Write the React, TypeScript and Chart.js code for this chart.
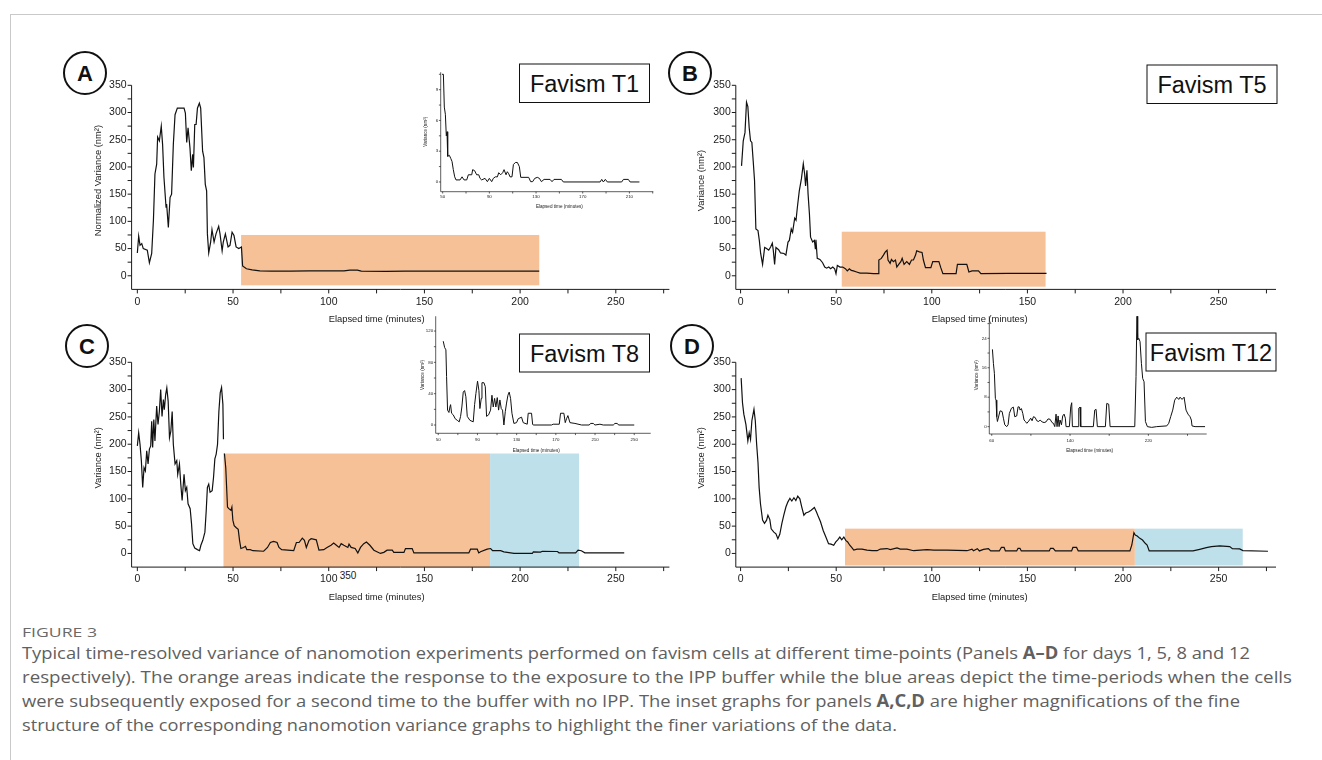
import React, { useEffect, useRef } from "react";
import { Chart, registerables } from "chart.js";

Chart.register(...registerables);

type Pt = [number, number];

// ---------------- DATA ----------------
// Panel A (Favism T1) main trace: [minutes, normalized variance nm²]
const A_MAIN: Pt[] = [[0,42],[0.7,73],[1.4,56],[2.3,59],[3.1,50],[5.2,47],[6.3,24],[7.5,41],[8.4,102],[9.2,187],[10.1,205],[10.6,255],[11.5,248],[12.5,275],[13.2,241],[13.9,181],[15,126],[15.3,132],[16.2,89],[17.1,144],[17.9,150],[18.8,241],[19.7,296],[20.9,308],[24.4,308],[25.1,299],[25.8,245],[26.5,272],[27.5,235],[28.2,193],[28.9,223],[29.3,199],[30,278],[30.7,278],[31.4,308],[32.4,317],[33.1,308],[34.1,229],[34.8,217],[35.5,168],[36.2,156],[36.6,77],[37.3,42],[38.3,62],[39,85],[40.1,62],[41.1,77],[42.5,91],[43.2,77],[44.3,46],[44.9,62],[46,77],[47.4,53],[48.4,56],[49.5,80],[50.5,74],[51.6,53],[53,50],[54.4,53],[55,18],[57,13],[60,11],[64,9],[70,8.5],[80,8.5],[90,9],[100,9],[108,9],[111,10.5],[115,10.5],[117,8.5],[130,8],[140,8.5],[150,8.5],[170,8.5],[190,8.5],[200,8.5],[210,8.5]];
// Panel A inset (fine structure)
const A_INSET: Pt[] = [[49.4,10.5],[50.6,10.5],[51.4,7.3],[52.3,6.6],[53.1,4.5],[53.7,4.9],[54.3,2.5],[55.7,2.6],[56.9,2.3],[58,2.0],[59.1,1.2],[60.3,0.5],[61.4,0.2],[64.9,0.2],[66.6,0.5],[68.3,0.2],[70.6,0.2],[72,0.7],[74.9,0.7],[75.7,1.2],[77.4,1.1],[79.1,0.7],[80.9,0.7],[82,0.35],[83.4,0.2],[86.3,0.35],[88.3,0.03],[90,0.35],[92,0.03],[93.4,0.35],[95.1,0.5],[96.9,0.5],[98,0.9],[99.7,0.7],[101.4,0.9],[102.6,1.2],[104.3,0.7],[105.4,1.0],[106.6,0.8],[107.7,0.5],[109.4,0.5],[110.6,1.7],[112.3,1.9],[114,1.9],[115.7,1.5],[116.9,0.45],[123.7,0.45],[125.4,0.03],[127.1,0.03],[128.9,0.35],[131.1,0.45],[132.9,0.35],[134.6,0.03],[136.9,0.25],[142,0.25],[143.7,0.03],[145.4,0.25],[151.7,0.25],[153.4,0],[184.9,0],[186.3,0.25],[187.7,0],[189.4,0.25],[191.1,0],[203.4,0],[204.9,0.25],[209.1,0.25],[210.6,0],[218.6,0]];

// Panel B (Favism T5)
const B_MAIN: Pt[] = [[0.5,202],[1.4,248],[2.3,263],[3.1,319],[3.8,311],[4.5,272],[5.2,248],[5.9,245],[6.6,211],[7.3,175],[8,86],[9.1,83],[9.8,65],[10.5,41],[11.5,21],[12.6,52],[13.6,50],[14.7,47],[15.7,53],[16.6,60],[17.1,47],[17.8,21],[18.5,52],[19.9,48],[20.9,42],[22.7,41],[23.7,38],[24.8,62],[25.5,65],[26.5,86],[27.2,80],[28.3,106],[29,102],[29.7,126],[30.7,156],[31.8,178],[32.8,206],[33.5,187],[34,165],[34.7,194],[35.3,150],[36,114],[36.6,71],[37.7,62],[38.6,65],[39.1,50],[39.4,66],[40.1,32],[41.5,30],[42.9,24],[44,16],[45,14],[46.1,16],[47.1,13],[48.2,16],[49.2,13],[49.9,4],[50.6,19],[52,16],[53.4,16],[54.8,13],[55.8,9],[56.9,13],[57.9,10],[59,9],[60.7,7],[62.5,5],[66,5],[69.5,4],[71.9,4],[72.3,29],[73.6,32],[74.7,38],[75.7,44],[76.6,47],[77.1,29],[78.2,23],[78.9,30],[79.9,26],[81,29],[81.7,16],[82.7,21],[83.8,26],[84.5,32],[85.5,21],[86.9,26],[88.3,21],[89.4,29],[90.4,29],[91.5,38],[92.1,46],[93.5,44],[94.9,43],[95.6,29],[96.7,15],[99.5,15],[100.5,26],[103.7,26],[104.7,15],[105.8,4],[112.7,4],[113.4,21],[118.3,21],[119.4,7],[121,9],[124.4,9],[125.7,4],[140,4.5],[160,4.4]];

// Panel C (Favism T8): before and after the buffer exchange
const C_PRE: Pt[] = [[0,197],[0.7,221],[1.4,200],[2.1,170],[2.8,121],[3.5,157],[4.2,151],[4.9,188],[5.6,164],[6.3,191],[7,197],[7.5,242],[8,194],[8.6,245],[9.2,206],[10.1,270],[10.8,236],[11.5,260],[12.2,300],[12.9,251],[13.6,282],[14.1,263],[14.8,291],[15.4,303],[16.1,279],[16.8,212],[17.5,224],[18.2,260],[18.8,200],[19.7,164],[20.6,170],[21.1,145],[22,164],[22.7,127],[23.4,97],[24.4,145],[25.1,115],[25.8,121],[26.5,91],[27.6,82],[28.3,55],[29,18],[30,10],[31.4,7],[32.5,5],[33.2,15],[34.2,24],[35.3,39],[36,79],[36.6,121],[37.3,127],[38,112],[39.1,115],[39.8,139],[40.5,173],[41.2,182],[41.9,200],[42.6,260],[43.3,294],[44,304],[44.7,273],[45,209]];
const C_POST: Pt[] = [[45.5,183],[46.2,157],[47.1,85],[47.8,82],[48.9,79],[49.4,85],[49.9,61],[50.6,51],[51.7,47],[52.7,44],[53.4,24],[54.1,9],[55.5,11],[56.5,13],[57.2,7],[59,7],[60.4,5],[66,4],[68,11],[69.5,20],[71.2,22],[73,20],[74,11],[75.4,7],[81.7,5],[83.1,20],[84.5,20],[86.2,28],[87.3,24],[88.3,11],[89.7,24],[90.8,27],[93.5,25],[94.9,6],[97.4,7],[99.1,11],[101.2,15],[102.6,19],[104,15],[105.4,11],[106.5,18],[107.9,15],[110,11],[110.6,17],[111.7,11],[113.8,9],[115.2,1],[116.6,11],[118.3,18],[119.7,21],[121.5,15],[123.6,6],[127,0],[128.8,2],[130.5,6],[133.2,6],[134,2],[139.3,2],[140.1,9],[143.6,9],[144.5,1],[173.2,1],[174.1,7.8],[177.6,7.8],[178.4,1],[179.3,3],[182.8,7.8],[184.6,9],[185.6,5],[189.8,5],[191.5,3],[196.8,0],[206.4,0],[206.9,3],[210.7,2.4],[211.6,4],[219.5,3.6],[220.3,1.2],[229,1.2],[230.3,6],[232,5],[233.8,1.2],[254.4,1.2]];
const C_INSET: Pt[] = [[55.1,107],[56.5,99],[57.8,96],[58.5,62],[59.5,19],[60.9,16],[61.9,23],[62.6,26],[63.6,15],[65.3,13],[67.3,8],[69.4,6],[71.4,4],[72.8,11],[74.1,23],[75.5,42],[76.9,44],[78.2,36],[79.6,11],[82.3,6],[85.7,4],[87.1,26],[88.4,40],[90.1,56],[91.5,44],[92.5,21],[93.9,34],[94.6,54],[96.6,54],[98,49],[99.3,11],[101.4,13],[103.4,19],[104.8,38],[106.1,23],[107.5,34],[108.8,23],[110.2,35],[111.6,19],[112.9,32],[114.3,21],[115.6,19],[117,0],[118.4,17],[119.7,28],[121.1,38],[122.4,42],[123.8,34],[125.2,15],[127.2,2],[129.9,3],[131.6,8],[135,10],[136.7,3],[140.8,1],[141.8,15],[145.2,15],[146.3,1],[146.9,0],[165.6,0],[167.3,1],[173.5,1],[174.8,15],[178.2,15],[179.6,3],[180.9,8],[182.3,12],[184.4,3],[189.5,2],[196.3,0],[204.1,0],[205.4,2],[208.2,2],[209.9,0],[215,1],[218.4,0],[228.6,0],[230.3,2],[232.7,2],[234,0],[250,0]];

// Panel D (Favism T12)
const D_MAIN: Pt[] = [[0.3,321],[1,276],[1.7,255],[2.8,236],[3.8,206],[4.5,221],[5.2,209],[5.9,243],[7,264],[7.7,243],[8.4,200],[9.1,167],[9.7,121],[10.4,91],[11.5,61],[12.5,55],[13.6,61],[14.3,70],[15.3,62],[16,45],[17.4,39],[18.5,36],[19.5,27],[20.5,35],[21.6,55],[22.6,70],[23.7,85],[24.7,94],[25.8,101],[26.8,96],[27.9,102],[28.9,97],[29.9,105],[31,100],[32,85],[33.1,70],[34.1,74],[35.5,76],[36.9,79],[38.6,84],[39.7,76],[40.7,67],[41.8,58],[43.2,42],[44.6,30],[46,18],[47.3,17],[48.7,15],[49.8,21],[50.8,25],[51.9,30],[52.9,25],[54,30],[55,24],[56,21],[57.1,15],[58.1,11],[59.2,6],[60.9,8],[63.5,8],[66.1,6],[68.8,5],[71.4,5],[73.1,8],[76.6,9],[78.3,7],[81.8,10],[83.5,8],[87,8],[90.5,5],[97.5,7],[101,6],[107.9,6],[118.4,5],[121,8],[121.8,5],[123.8,8.7],[124.9,4.6],[127,7.4],[129.6,8.7],[130.8,4.6],[135.3,4.6],[136.4,11],[137.8,11],[138.5,4.6],[144.4,4.6],[145.1,9.4],[146.1,9.4],[146.8,4.6],[161.4,4.6],[162.1,9.4],[163.5,9.4],[164.6,4.6],[173.1,4.6],[173.8,11],[175.7,11],[176.6,4.6],[203.6,4.6],[204.6,15.5],[205.7,37.9],[206.4,33.6],[207.4,31.9],[208.8,27.6],[210.2,24.6],[211.6,18.6],[212.6,15.5],[213.7,4.6],[236.6,4.6],[240.1,7.6],[243.6,10.6],[246.2,12.5],[250.6,13.7],[255.8,12.5],[257.2,8.8],[261,8.2],[262.7,5.2],[275.8,4]];
const D_INSET: Pt[] = [[60.7,21],[61.7,17.2],[62.7,14.5],[63.7,7.7],[64.4,7.2],[65.1,2.7],[65.8,1.4],[67.2,2.9],[68.5,4.3],[70.6,4.1],[71.9,2.3],[73.3,0.5],[75.3,0],[76.7,0.5],[78,3.6],[80.1,5],[82.1,5.3],[83.5,2.7],[85.5,2.9],[86.9,5.4],[88.3,5.3],[88.9,4.5],[90.3,4.9],[91.7,3.6],[93,1.8],[94.4,1.4],[95.8,0.9],[97.8,1.5],[99.8,2.3],[101.2,1.6],[102.6,2.7],[104.3,2.5],[106,1.6],[108,1.4],[109.4,1.8],[111.4,1.3],[113.5,1.1],[115.5,1.3],[117.5,2.1],[119.6,2.0],[121.6,1.1],[123,0.9],[124.4,0],[125.7,3.4],[126.7,0],[127.8,2.9],[128.8,0],[129.8,1.8],[131.2,0.5],[132.5,2.9],[133.9,3.4],[135.2,2.3],[135.9,0],[139.3,0],[140.7,5.4],[141.7,6.5],[142.4,0],[148.2,0],[148.9,5],[150.2,5.3],[150.9,0],[163.8,0],[165.2,4.5],[166.6,4.7],[167.9,0],[176.1,0],[177.5,6.3],[179.5,6.1],[180.9,0],[206.1,0],[207.4,13.6],[208.4,32],[209.1,23.6],[210.2,24],[211.5,23.1],[212.9,17.2],[214.2,13.1],[215.6,12.2],[217,1.4],[219,0],[223.4,-0.2],[228.5,0],[238.8,0.2],[240.8,0.9],[242.8,2.7],[244.9,4.5],[246.9,7.2],[249,8],[251,7.4],[252.4,8],[254.4,7.4],[256.5,8],[258.5,4.5],[260.5,3.4],[262.6,2.7],[263.9,1.8],[264.6,0.2],[267.7,0],[277.9,0]];

// Exposure periods: [start min, end min, lower variance, upper variance]
const A_IPP = [54.2, 210, -17.5, 75];
const B_IPP = [52.9, 159.5, -20, 81];
const C_IPP = [45, 184.3, -25, 183];
const C_NOIPP = [184.3, 230.8, -25, 183];
const D_IPP = [54.6, 206.2, -22, 45.4];
const D_NOIPP = [206.2, 262.6, -22, 45.4];

// Ticks
const MAIN_X_TICKS = [0, 50, 100, 150, 200, 250];
const MAIN_X_MINOR = [25, 75, 125, 175, 225, 275];
const MAIN_Y_TICKS = [0, 50, 100, 150, 200, 250, 300, 350];
const MAIN_Y_MINOR = [25, 75, 125, 175, 225, 275, 325];
const A_IN_X_TICKS = [50, 90, 130, 170, 210];
const A_IN_X_MINOR = [70, 110, 150, 190, 230];
const A_IN_Y_TICKS = [0, 3, 6, 9];
const A_IN_Y_MINOR = [1.5, 4.5, 7.5, 10.5];
const C_IN_X_TICKS = [50, 90, 130, 170, 210, 250];
const C_IN_X_MINOR = [70, 110, 150, 190, 230];
const C_IN_Y_TICKS = [0, 40, 80, 120];
const C_IN_Y_MINOR = [20, 60, 100];
const D_IN_X_TICKS = [60, 140, 220];
const D_IN_X_MINOR = [100, 180, 260];
const D_IN_Y_TICKS = [0, 8, 16, 24];
const D_IN_Y_MINOR = [4, 12, 20, 28];

const PANEL_NAMES = ["Favism T1", "Favism T5", "Favism T8", "Favism T12"];
const PANEL_LETTERS = ["A", "B", "C", "D"];
const X_TITLE = "Elapsed time (minutes)";

// ---------------- STYLE ----------------
const FAMILY = '"Liberation Sans", Arial, Helvetica, sans-serif';
const ORANGE = "rgb(247,193,151)";
const BLUE = "rgb(190,224,235)";
const INK = "#1a1a1a";

type Region = { r: number[]; color: string };
interface Spec {
  id: string;
  area: [number, number, number, number];
  pad: [number, number, number, number];
  xRange: [number, number];
  yRange: [number, number];
  xTicks: number[]; xMinor: number[]; yTicks: number[]; yMinor: number[];
  series: Pt[][];
  regions: Region[];
  tickFont: number; tickLen: number; xLabelPad: number; yLabelPad: number;
  titleFont: number; yTitle: string;
  xTitleAt: number; xTitleGap: number; yTitleAt: number; yTitleGap: number;
  lineWidth: number; axisWidth: number;
}

const mainBase = {
  pad: [48, 10, 16, 40] as [number, number, number, number],
  xTicks: MAIN_X_TICKS, xMinor: MAIN_X_MINOR, yTicks: MAIN_Y_TICKS, yMinor: MAIN_Y_MINOR,
  tickFont: 10.5, tickLen: 4, xLabelPad: 6, yLabelPad: 5,
  titleFont: 9.4, xTitleAt: 125, xTitleGap: 30, yTitleAt: 175, yTitleGap: 33,
  lineWidth: 1.2, axisWidth: 1,
  yRange: [-25, 350] as [number, number],
};
const insetBase = {
  pad: [24, 5, 6, 22] as [number, number, number, number],
  tickFont: 4.4, tickLen: 1.8, xLabelPad: 3, yLabelPad: 2.6,
  titleFont: 4.6, yTitle: "Variance (nm²)",
  lineWidth: 1, axisWidth: 0.7,
};

const SPECS: Spec[] = [
  { ...mainBase, id: "A", area: [131.6, 83.9, 669.4, 289.4], xRange: [-3, 278],
    series: [A_MAIN], regions: [{ r: A_IPP, color: ORANGE }], yTitle: "Normalized Variance (nm²)" },
  { ...mainBase, id: "B", area: [735.8, 83.9, 1276, 289.4], xRange: [-2.5, 280],
    series: [B_MAIN], regions: [{ r: B_IPP, color: ORANGE }], yTitle: "Variance (nm²)", yTitleGap: 34 },
  { ...mainBase, id: "C", area: [131.6, 360.7, 669.4, 567.1], xRange: [-3, 278],
    series: [C_PRE, C_POST], regions: [{ r: C_IPP, color: ORANGE }, { r: C_NOIPP, color: BLUE }], yTitle: "Variance (nm²)" },
  { ...mainBase, id: "D", area: [735.8, 360.7, 1276, 567.1], xRange: [-2.5, 280],
    series: [D_MAIN], regions: [{ r: D_IPP, color: ORANGE }, { r: D_NOIPP, color: BLUE }], yTitle: "Variance (nm²)", yTitleGap: 34 },
  { ...insetBase, id: "Ai", area: [440.7, 71.7, 653.3, 191.7], xRange: [48.3, 230.5], yRange: [-0.95, 10.7],
    xTicks: A_IN_X_TICKS, xMinor: A_IN_X_MINOR, yTicks: A_IN_Y_TICKS, yMinor: A_IN_Y_MINOR,
    series: [A_INSET], regions: [], xTitleAt: 150, xTitleGap: 15, yTitleAt: 4.9, yTitleGap: 15, xLabelPad: 2.2 },
  { ...insetBase, id: "Ci", area: [435.7, 316, 650.7, 433.3], xRange: [47.4, 266.8], yRange: [-10.6, 138.9],
    xTicks: C_IN_X_TICKS, xMinor: C_IN_X_MINOR, yTicks: C_IN_Y_TICKS, yMinor: C_IN_Y_MINOR,
    series: [C_INSET], regions: [], xTitleAt: 150, xTitleGap: 17, yTitleAt: 64, yTitleGap: 12.5, xLabelPad: 4 },
  { ...insetBase, id: "Di", area: [989.3, 316, 1206.7, 434], xRange: [57.5, 279.6], yRange: [-2, 30],
    xTicks: D_IN_X_TICKS, xMinor: D_IN_X_MINOR, yTicks: D_IN_Y_TICKS, yMinor: D_IN_Y_MINOR,
    series: [D_INSET], regions: [], xTitleAt: 160, xTitleGap: 16.7, yTitleAt: 14, yTitleGap: 13, xLabelPad: 4 },
];

function ChartBox({ spec }: { spec: Spec }) {
  const ref = useRef<HTMLCanvasElement>(null);
  const [L, T, R, B] = spec.area;
  const [pl, pt, pr, pb] = spec.pad;
  const left = Math.round(L - pl);
  const top = Math.round(T - pt);
  const width = Math.round(R + pr) - left;
  const height = Math.round(B + pb) - top;
  const padL = L - left;
  const padT = T - top;
  const padR = width - (R - left);
  const padB = height - (B - top);

  useEffect(() => {
    const canvas = ref.current;
    if (!canvas) return;
    const deco = {
      id: "deco" + spec.id,
      beforeDatasetsDraw(chart: any) {
        const { ctx, scales } = chart;
        const x = scales.x, y = scales.y;
        ctx.save();
        for (const g of spec.regions) {
          const [x0v, x1v, y0v, y1v] = g.r;
          const x0 = x.getPixelForValue(x0v), x1 = x.getPixelForValue(x1v);
          const y0 = y.getPixelForValue(y0v), y1 = y.getPixelForValue(y1v);
          ctx.fillStyle = g.color;
          ctx.fillRect(x0, y1, x1 - x0, y0 - y1);
        }
        ctx.restore();
      },
      afterDraw(chart: any) {
        const { ctx, chartArea: a, scales } = chart;
        const x = scales.x, y = scales.y;
        ctx.save();
        ctx.strokeStyle = INK;
        ctx.lineWidth = spec.axisWidth;
        ctx.beginPath();
        ctx.moveTo(a.left, a.top);
        ctx.lineTo(a.left, a.bottom);
        ctx.lineTo(a.right, a.bottom);
        for (const v of [...spec.xTicks, ...spec.xMinor]) {
          const px = x.getPixelForValue(v);
          ctx.moveTo(px, a.bottom);
          ctx.lineTo(px, a.bottom + spec.tickLen);
        }
        for (const v of [...spec.yTicks, ...spec.yMinor]) {
          const py = y.getPixelForValue(v);
          ctx.moveTo(a.left, py);
          ctx.lineTo(a.left - spec.tickLen, py);
        }
        ctx.stroke();
        ctx.fillStyle = INK;
        ctx.font = `${spec.titleFont}px ${FAMILY}`;
        ctx.textAlign = "center";
        ctx.textBaseline = "middle";
        ctx.fillText(X_TITLE, x.getPixelForValue(spec.xTitleAt), a.bottom + spec.xTitleGap);
        ctx.translate(a.left - spec.yTitleGap, y.getPixelForValue(spec.yTitleAt));
        ctx.rotate(-Math.PI / 2);
        ctx.fillText(spec.yTitle, 0, 0);
        ctx.restore();
      },
    };
    const tickFont = { family: FAMILY, size: spec.tickFont };
    const chart = new Chart(canvas, {
      type: "line",
      data: {
        datasets: spec.series.map((s) => ({
          data: s.map(([x, y]) => ({ x, y })),
          borderColor: "#111",
          borderWidth: spec.lineWidth,
          pointRadius: 0,
          tension: 0,
          fill: false,
        })),
      },
      options: {
        responsive: false,
        maintainAspectRatio: false,
        animation: false,
        devicePixelRatio: 1,
        events: [],
        layout: { autoPadding: false, padding: { left: 0, top: padT, right: padR, bottom: 0 } },
        plugins: { legend: { display: false }, tooltip: { enabled: false }, title: { display: false } },
        scales: {
          x: {
            type: "linear",
            min: spec.xRange[0],
            max: spec.xRange[1],
            afterFit: (s: any) => { s.height = padB; },
            afterBuildTicks: (s: any) => { s.ticks = spec.xTicks.map((v) => ({ value: v })); },
            grid: { display: false, drawTicks: false, tickLength: 0 },
            border: { display: false },
            ticks: {
              autoSkip: false, maxRotation: 0, minRotation: 0, padding: spec.xLabelPad,
              color: INK, font: tickFont, callback: (v: any) => String(v),
            },
          },
          y: {
            type: "linear",
            min: spec.yRange[0],
            max: spec.yRange[1],
            afterFit: (s: any) => { s.width = padL; },
            afterBuildTicks: (s: any) => { s.ticks = spec.yTicks.map((v) => ({ value: v })); },
            grid: { display: false, drawTicks: false, tickLength: 0 },
            border: { display: false },
            ticks: {
              autoSkip: false, padding: spec.yLabelPad,
              color: INK, font: tickFont, callback: (v: any) => String(v),
            },
          },
        },
      } as any,
      plugins: [deco],
    });
    return () => chart.destroy();
  }, [spec]);

  return (
    <canvas
      ref={ref}
      width={width}
      height={height}
      style={{ position: "absolute", left, top, width, height }}
    />
  );
}

const CIRCLES: [number, number][] = [[85, 73], [690, 73], [87, 346], [692, 346]];
const BOXES: [number, number, number, number][] = [
  [519.5, 64, 130, 38.5], [1147, 65, 130, 38.5], [519.5, 334, 130, 38], [1146, 333, 130, 38],
];

const CAP_FONT = '"Open Sans", "Noto Sans", sans-serif';

export default function App() {
  return (
    <div style={{ position: "absolute", left: 0, top: 0, width: 1322, height: 760, background: "#fff", overflow: "hidden" }}>
      <svg width={1322} height={760} style={{ position: "absolute", left: 0, top: 0 }}>
        <line x1={10} y1={14.5} x2={1322} y2={14.5} stroke="#c9c9c9" strokeWidth={1} />
        <line x1={10.5} y1={14} x2={10.5} y2={760} stroke="#c9c9c9" strokeWidth={1} />
        {CIRCLES.map(([cx, cy], i) => (
          <g key={"c" + i}>
            <circle cx={cx} cy={cy} r={21} fill="#fff" stroke="#111" strokeWidth={2} />
            <text x={cx} y={cy + 8} textAnchor="middle" fontFamily={FAMILY} fontWeight="bold" fontSize={22} fill="#111">
              {PANEL_LETTERS[i]}
            </text>
          </g>
        ))}
        {BOXES.map(([x, y, w, h], i) => (
          <g key={"b" + i}>
            <rect x={x} y={y} width={w} height={h} fill="#fff" stroke="#111" strokeWidth={1} />
            <text x={x + w / 2} y={y + h / 2 + 8.5} textAnchor="middle" fontFamily={FAMILY} fontSize={23.5} fill="#111">
              {PANEL_NAMES[i]}
            </text>
          </g>
        ))}
        <text x={348} y={578.5} textAnchor="middle" fontFamily={FAMILY} fontSize={10} fill={INK}>350</text>
        <text x={22} y={637} fontFamily={CAP_FONT} fontSize={12.5} fill="#6a6a6a" textLength={75} lengthAdjust="spacingAndGlyphs">FIGURE 3</text>
        <text x={22} y={659} fontFamily={CAP_FONT} fontSize={17} fill="#606060" textLength={1228} lengthAdjust="spacingAndGlyphs">
          Typical time-resolved variance of nanomotion experiments performed on favism cells at different time-points (Panels <tspan fontWeight="bold">A–D</tspan> for days 1, 5, 8 and 12
        </text>
        <text x={22} y={683} fontFamily={CAP_FONT} fontSize={17} fill="#606060" textLength={1270} lengthAdjust="spacingAndGlyphs">
          respectively). The orange areas indicate the response to the exposure to the IPP buffer while the blue areas depict the time-periods when the cells
        </text>
        <text x={22} y={707} fontFamily={CAP_FONT} fontSize={17} fill="#606060" textLength={1218} lengthAdjust="spacingAndGlyphs">
          were subsequently exposed for a second time to the buffer with no IPP. The inset graphs for panels <tspan fontWeight="bold">A,C,D</tspan> are higher magnifications of the fine
        </text>
        <text x={22} y={731} fontFamily={CAP_FONT} fontSize={17} fill="#606060" textLength={875} lengthAdjust="spacingAndGlyphs">
          structure of the corresponding nanomotion variance graphs to highlight the finer variations of the data.
        </text>
      </svg>
      {SPECS.map((s) => (
        <ChartBox key={s.id} spec={s} />
      ))}
    </div>
  );
}
